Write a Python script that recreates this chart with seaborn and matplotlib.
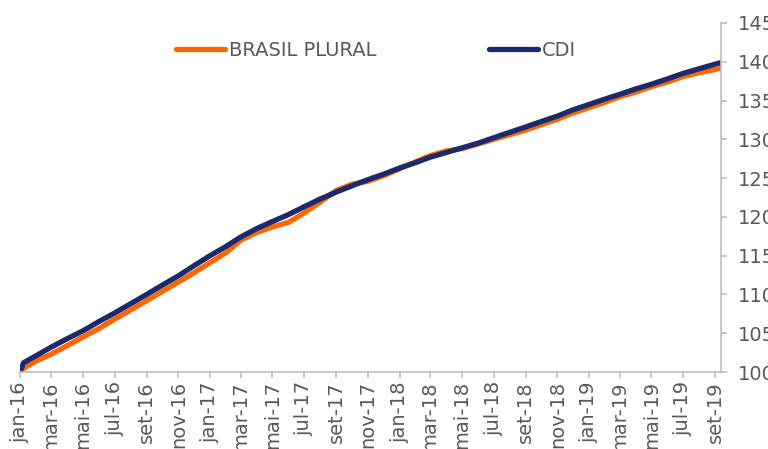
import matplotlib
matplotlib.use("Agg")
import matplotlib.pyplot as plt
import matplotlib.dates as mdates
from matplotlib.ticker import FuncFormatter, MultipleLocator
import seaborn as sns
import pandas as pd

# monthly points (start of month) plus a short first step and the last day shown
dates = (["2016-01-01", "2016-01-08"]
         + [d.strftime("%Y-%m-%d") for d in pd.date_range("2016-02-01", "2019-09-01", freq="MS")]
         + ["2019-09-12"])

brasil_plural = [100.0, 100.5, 101.4, 102.3, 103.4, 104.5, 105.6, 106.8, 108.0, 109.2,
                 110.4, 111.6, 112.8, 114.1, 115.4, 117.0, 118.0, 118.7, 119.3, 120.5,
                 121.9, 123.4, 124.2, 124.6, 125.3, 126.2, 127.1, 127.9, 128.5, 128.8,
                 129.4, 130.0, 130.6, 131.2, 131.9, 132.6, 133.4, 134.1, 134.8, 135.5,
                 136.1, 136.8, 137.4, 138.1, 138.6, 139.0, 139.2]
cdi = [100.0, 101.2, 102.1, 103.2, 104.3, 105.3, 106.5, 107.6, 108.8, 110.0,
       111.2, 112.4, 113.7, 115.0, 116.2, 117.4, 118.5, 119.4, 120.3, 121.3,
       122.3, 123.2, 124.0, 124.8, 125.5, 126.3, 127.0, 127.7, 128.3, 128.9,
       129.5, 130.2, 130.9, 131.6, 132.3, 133.0, 133.8, 134.5, 135.2, 135.8,
       136.5, 137.1, 137.8, 138.5, 139.1, 139.7, 139.9]

month_names = ["jan", "fev", "mar", "abr", "mai", "jun",
               "jul", "ago", "set", "out", "nov", "dez"]

df = pd.DataFrame({"data": pd.to_datetime(dates),
                   "BRASIL PLURAL": brasil_plural,
                   "CDI": cdi})

sns.set_style("white")
plt.rcParams["font.family"] = ["DejaVu Sans"]

text_grey = "#595959"
axis_grey = "#BFBFBF"

fig = plt.figure(figsize=(7.68, 4.49), dpi=100)
ax = fig.add_axes([20 / 768, 77 / 449, 701 / 768, 349 / 449])

line_kw = dict(linewidth=3.8, solid_capstyle="round", solid_joinstyle="round")
sns.lineplot(x="data", y="BRASIL PLURAL", data=df, color="#FF6600",
             label="BRASIL PLURAL", ax=ax, **line_kw)
sns.lineplot(x="data", y="CDI", data=df, color="#1B2A6E",
             label="CDI", ax=ax, **line_kw)

ax.set_xlim(pd.Timestamp("2016-01-01"), pd.Timestamp("2019-09-12"))
ax.set_ylim(100, 145)
ax.set_xlabel("")
ax.set_ylabel("")

ax.xaxis.set_major_locator(mdates.MonthLocator(bymonth=[1, 3, 5, 7, 9, 11]))
ax.xaxis.set_major_formatter(FuncFormatter(
    lambda v, pos: month_names[mdates.num2date(v).month - 1] + "-" + mdates.num2date(v).strftime("%y")))
ax.yaxis.set_major_locator(MultipleLocator(5))
ax.yaxis.tick_right()

for s in ["left", "top"]:
    ax.spines[s].set_visible(False)
for s in ["right", "bottom"]:
    ax.spines[s].set_color(axis_grey)
    ax.spines[s].set_linewidth(1.2)

ax.tick_params(axis="x", direction="out", length=4.5, width=1.2, color=axis_grey,
               labelsize=14, labelcolor=text_grey, labelrotation=90, pad=2, bottom=True)
ax.tick_params(axis="y", direction="out", length=4.5, width=1.2, color=axis_grey,
               labelsize=14, labelcolor=text_grey, pad=8, right=True, left=False)
for lbl in ax.get_xticklabels():
    lbl.set_verticalalignment("top")

ax.legend(loc="center", bbox_to_anchor=(376 / 768, 1 - 50 / 449),
          bbox_transform=fig.transFigure, ncol=2, frameon=False,
          fontsize=14, labelcolor=text_grey, handlelength=2.5,
          handletextpad=0.2, columnspacing=5.8, borderpad=0)

fig.savefig("out.png", dpi=100)
plt.close("all")
